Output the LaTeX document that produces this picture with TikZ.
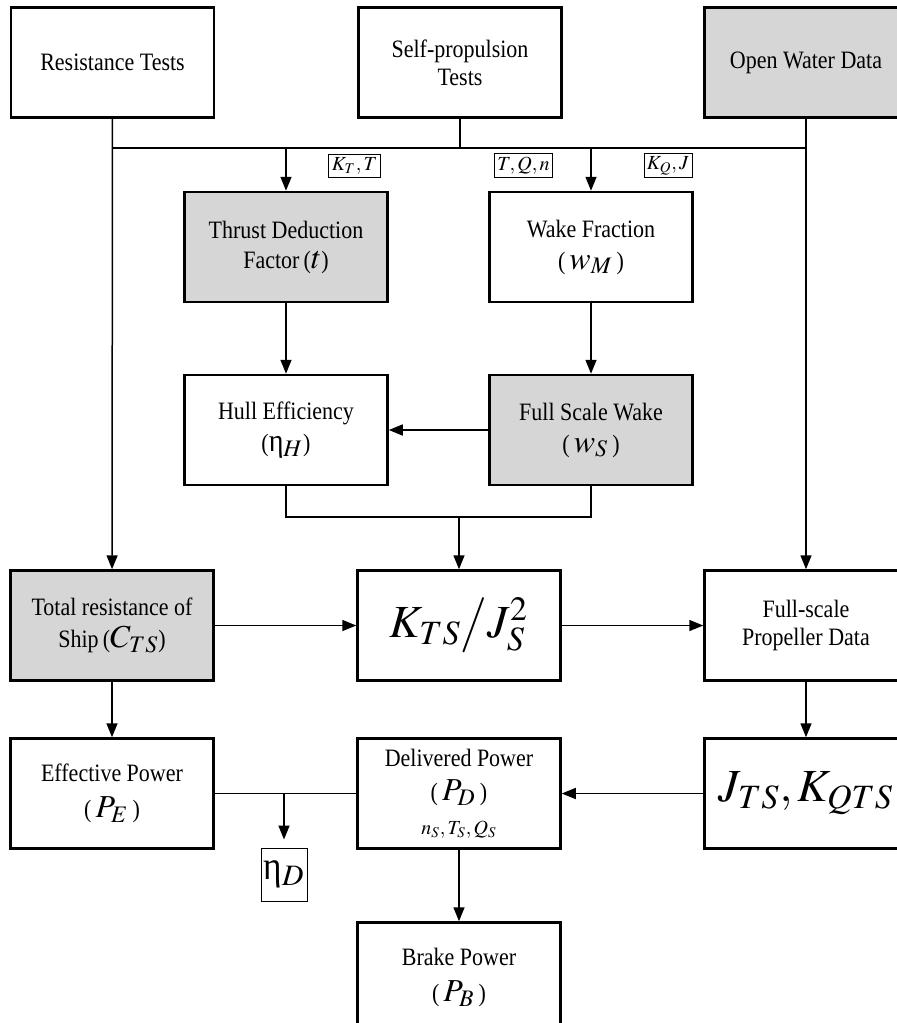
\documentclass[tikz,border=0pt]{standalone}
\usepackage{mathptmx}
\usepackage[no-math]{fontspec}
\setmainfont{Liberation Serif}[FakeStretch=0.88]
\usetikzlibrary{arrows.meta,positioning}

\newcommand{\midsym}[1]{{\fontsize{16}{16}\selectfont$#1$}}
\newcommand{\bigsym}[1]{{\fontsize{23}{23}\selectfont$#1$}}

\tikzset{
  blk/.style={draw, line width=1.25pt, minimum width=101.5pt, minimum height=55pt,
    align=center, inner sep=1pt, font=\fontsize{12.5}{14}\selectfont},
  graybox/.style={blk, fill=black!16},
  lbl/.style={draw, line width=0.4pt, inner sep=1.5pt, font=\fontsize{10}{11}\selectfont},
  link/.style={line width=0.75pt},
  flow/.style={link, -{Triangle[length=7pt,width=5.5pt]}},
}

\begin{document}
\begin{tikzpicture}[x=0.5pt,y=-0.5pt]
    \useasboundingbox (0,0) rectangle (896,1023);

    % top row: tests and data
    \node[blk] (res) at (112.5,62.5) {Resistance Tests};
    \node[blk] (selfp) at (460,62.5) {Self-propulsion\\Tests};
    \node[graybox] (open) at (806,62.5) {Open Water Data};

    % model scale factors
    \node[graybox] (thrust) at (286,247) {Thrust Deduction\\[1pt]Factor\,(\midsym{t})};
    \node[blk] (wake) at (591,247) {Wake Fraction\\[2pt](\,\midsym{w_{M}}\,)};

    \node[blk] (hull) at (286,430) {Hull Efficiency\\[2pt]({\fontsize{16}{16}\selectfont η$_{H}$})};
    \node[graybox] (fsw) at (591,430) {Full Scale Wake\\[2pt](\,\midsym{w_{S}}\,)};

    % full scale
    \node[graybox] (total) at (112,625.5) {Total resistance of\\[2pt]Ship\,(\midsym{C_{TS}})};
    \node[blk] (kts) at (459,625.5) {\bigsym{K_{TS}\big/J_{S}^{2}}};
    \node[blk] (fprop) at (806,625.5) {Full-scale\\Propeller Data};

    % powers
    \node[blk] (eff) at (112,793.5) {Effective Power\\[4pt](\,\midsym{P_{E}}\,)};
    \node[blk] (deliv) at (459,793.5) {Delivered Power\\[3pt](\,\midsym{P_{D}}\,)\\[3pt]{\fontsize{10}{11}\selectfont$n_{S},T_{S},Q_{S}$}};
    \node[blk] (jts) at (806,793.5) {\bigsym{J_{TS},K_{QTS}}};
    \node[blk] (brake) at (459,977.5) {Brake Power\\[4pt](\,\midsym{P_{B}}\,)};
    \node[draw, line width=0.5pt, minimum width=23pt, minimum height=26.5pt, inner sep=1pt] (etaD) at (284,874.5) {{\fontsize{20}{20}\selectfont η$_{D}$}};

    % transferred quantities
    \node[lbl] (ktlbl) at (354.5,165.5) {$K_{T},T$};
    \node[lbl] (tqnlbl) at (523.5,165.5) {$T,Q,n$};
    \node[lbl] (kqlbl) at (668,165.5) {$K_{Q},J$};

    % connectors
    \coordinate (bus) at (460,148);
    \coordinate (join) at (459,517);
    \draw[link] (selfp) -- (bus);
    \draw[link] (res |- bus) -- (open |- bus);
    \draw[flow] (res) -- (total);
    \draw[flow] (open) -- (fprop);
    \draw[flow] (thrust |- bus) -- (thrust);
    \draw[flow] (wake |- bus) -- (wake);
    \draw[flow] (thrust) -- (hull);
    \draw[flow] (wake) -- (fsw);
    \draw[flow] (fsw) -- (hull);
    \draw[link] (hull.south) |- (join) -| (fsw.south);
    \draw[flow] (join) -- (kts);
    \draw[flow] (total) -- (kts);
    \draw[flow] (kts) -- (fprop);
    \draw[flow] (total) -- (eff);
    \draw[flow] (fprop) -- (jts);
    \draw[flow] (jts) -- (deliv);
    \draw[link] (eff) -- (deliv);
    \coordinate (tap) at (etaD |- eff);
    \draw[flow, shorten >=4pt] (tap) -- (etaD);
    \draw[flow] (deliv) -- (brake);
\end{tikzpicture}
\end{document}
